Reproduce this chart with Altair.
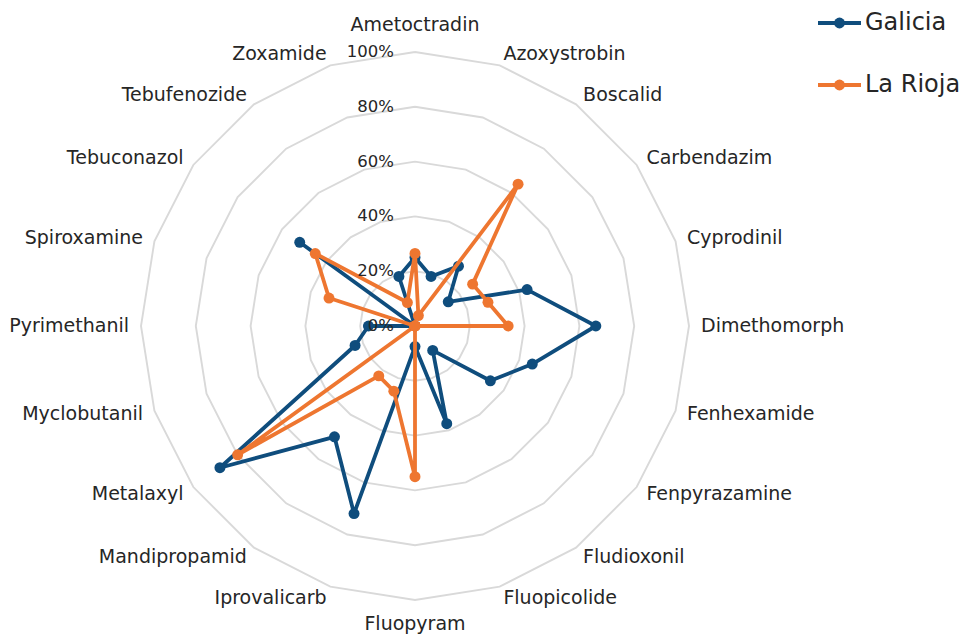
import altair as alt
import pandas as pd

# ---------------- data ----------------
categories = [
    "Ametoctradin", "Azoxystrobin", "Boscalid", "Carbendazim", "Cyprodinil",
    "Dimethomorph", "Fenhexamide", "Fenpyrazamine", "Fludioxonil", "Fluopicolide",
    "Fluopyram", "Iprovalicarb", "Mandipropamid", "Metalaxyl", "Myclobutanil",
    "Pyrimethanil", "Spiroxamine", "Tebuconazol", "Tebufenozide", "Zoxamide",
]
galicia = [25, 19, 27, 15, 43, 66, 45, 34, 11, 37.5,
           7.5, 72, 50, 88, 23, 17, 0, 52, 0, 19]
la_rioja = [26.5, 4, 64, 26, 28, 34, 0, 0, 0, 0,
            55, 25, 22.5, 80, 0, 0, 33, 45, None, 9]
series_names = ["Galicia", "La Rioja"]
series_colors = ["#0F4D7D", "#EE7630"]
grid_levels = [20, 40, 60, 80, 100]
tick_values = [0, 20, 40, 60, 80, 100]
tick_labels = ["0%", "20%", "40%", "60%", "80%", "100%"]

# ---------------- layout ----------------
W, H = 955, 626
CX, CY, RPX = 407, 318, 274          # centre & 100 % radius in pixels
N = len(categories)
xdom = [-CX / RPX, (W - CX) / RPX]
ydom = [-(H - CY) / RPX, CY / RPX]
FONT = "DejaVu Sans"
TXT = "#262626"

xs = alt.Scale(domain=xdom, nice=False, zero=False)
ys = alt.Scale(domain=ydom, nice=False, zero=False)
cs = alt.Scale(domain=series_names, range=series_colors)
ang = f"datum.k * 2 * PI / {N}"

# series table (closed loop)
rows = []
for name, vals in zip(series_names, [galicia, la_rioja]):
    for k in range(N + 1):
        i = k % N
        rows.append({"series": name, "k": k, "category": categories[i], "value": vals[i]})
series_df = pd.DataFrame(rows)

grid_df = pd.DataFrame([{"level": lv, "k": k} for lv in grid_levels for k in range(N + 1)])
label_df = pd.DataFrame({"category": categories, "k": list(range(N))})
tick_df = pd.DataFrame({"value": tick_values, "label": tick_labels})
legend_df = pd.DataFrame({"series": series_names, "row": list(range(len(series_names)))})

base_xy = dict(
    x=alt.X("x:Q", scale=xs, axis=None),
    y=alt.Y("y:Q", scale=ys, axis=None),
)

grid = (
    alt.Chart(grid_df)
    .transform_calculate(r="datum.level / 100", th=ang)
    .transform_calculate(x="datum.r * sin(datum.th)", y="datum.r * cos(datum.th)")
    .mark_line(color="#D9D9D9", strokeWidth=1.9)
    .encode(order="k:Q", detail="level:N", **base_xy)
)

def series_layers(name):
    src = (
        alt.Chart(series_df)
        .transform_filter(f"datum.series == '{name}'")
        .transform_filter("isValid(datum.value) && isFinite(datum.value)")
        .transform_calculate(r="datum.value / 100", th=ang)
        .transform_calculate(x="datum.r * sin(datum.th)", y="datum.r * cos(datum.th)")
    )
    line = src.mark_line(strokeWidth=3.8, strokeJoin="round", strokeCap="round").encode(
        order="k:Q",
        color=alt.Color("series:N", scale=cs, legend=None),
        **base_xy,
    )
    pts = src.transform_filter(f"datum.k < {N}").mark_circle(size=120, opacity=1).encode(
        color=alt.Color("series:N", scale=cs, legend=None),
        **base_xy,
    )
    return [line, pts]

lab_src = (
    alt.Chart(label_df)
    .transform_calculate(th=ang)
    .transform_calculate(s="sin(datum.th)", c="cos(datum.th)")
    .transform_calculate(rr=f"1 + (abs(datum.s) < 0.01 ? (datum.c > 0 ? 27 : 24) : 12) / {RPX}")
    .transform_calculate(x="datum.rr * datum.s", y="datum.rr * datum.c")
)
lab_kw = dict(font=FONT, fontSize=19, color=TXT, baseline="middle")
lab_right = lab_src.transform_filter("datum.s > 0.01").mark_text(align="left", **lab_kw).encode(text="category:N", **base_xy)
lab_left = lab_src.transform_filter("datum.s < -0.01").mark_text(align="right", **lab_kw).encode(text="category:N", **base_xy)
lab_mid = lab_src.transform_filter("abs(datum.s) <= 0.01").mark_text(align="center", **lab_kw).encode(text="category:N", **base_xy)

ticks = (
    alt.Chart(tick_df)
    .transform_calculate(x=f"-21 / {RPX}", y="datum.value / 100")
    .mark_text(align="right", baseline="middle", font=FONT, fontSize=16.5, color=TXT)
    .encode(text="label:N", **base_xy)
)

# legend (top right): line with marker + label, one row per series
LX0, LX1, LT = (818 - 415) / RPX, (861 - 415) / RPX, (865 - 415) / RPX
LY0, LDY = (326 - 23) / RPX, 62 / RPX
leg_src = alt.Chart(legend_df).transform_calculate(
    lx0=f"{LX0}", lx1=f"{LX1}", lxm=f"{(LX0 + LX1) / 2}", lt=f"{LT}",
    ly=f"{LY0} - datum.row * {LDY}",
)
leg_line = leg_src.mark_rule(strokeWidth=3.8).encode(
    x=alt.X("lx0:Q", scale=xs, axis=None), x2="lx1:Q",
    y=alt.Y("ly:Q", scale=ys, axis=None),
    color=alt.Color("series:N", scale=cs, legend=None),
)
leg_dot = leg_src.mark_circle(size=120, opacity=1).encode(
    x=alt.X("lxm:Q", scale=xs, axis=None),
    y=alt.Y("ly:Q", scale=ys, axis=None),
    color=alt.Color("series:N", scale=cs, legend=None),
)
leg_text = leg_src.mark_text(align="left", baseline="middle", font=FONT, fontSize=24, color=TXT).encode(
    x=alt.X("lt:Q", scale=xs, axis=None),
    y=alt.Y("ly:Q", scale=ys, axis=None),
    text="series:N",
)

chart = (
    alt.layer(grid, *series_layers("Galicia"), *series_layers("La Rioja"), ticks,
              lab_right, lab_left, lab_mid, leg_line, leg_dot, leg_text)
    .properties(width=W, height=H, padding=0, autosize=alt.AutoSizeParams(type="none"), background="white")
    .configure_view(stroke=None)
)

chart.save("out.html", embed_options={"renderer": "svg", "actions": False})
